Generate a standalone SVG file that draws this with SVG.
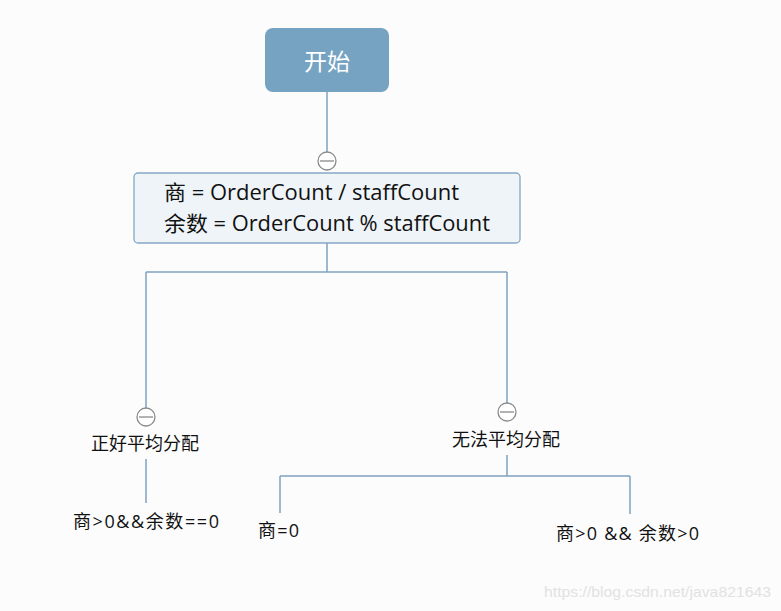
<svg xmlns="http://www.w3.org/2000/svg" width="781" height="611" viewBox="0 0 781 611">
<style>
.ln{stroke:#7fa3c0;stroke-width:1.5;fill:none}
.tg{fill:#fff;stroke:#8a8a8a;stroke-width:1.3}
.tgm{stroke:#8a8a8a;stroke-width:1.3}
.t{font-family:"Open Sans","Noto Sans CJK SC",sans-serif;fill:#111}
</style>
<rect width="781" height="611" fill="#fcfcfc"/>
<g id="connectors">
<path class="ln" d="M327,92 V152"/>
<path class="ln" d="M327,243 V272 M146,272 H507 M146,272 V408 M507,272 V403"/>
<path class="ln" d="M146,459 V503"/>
<path class="ln" d="M507,455 V476 M280,476 H630 M280,476 V513 M630,476 V514"/>
</g>
<g id="toggles">
<circle class="tg" cx="327" cy="161" r="9"/><path class="tgm" d="M320,161 H334"/>
<circle class="tg" cx="146" cy="417" r="9"/><path class="tgm" d="M139,417 H153"/>
<circle class="tg" cx="507" cy="412" r="9"/><path class="tgm" d="M500,412 H514"/>
</g>
<g id="start">
<rect x="265" y="28" width="124" height="64" rx="8" fill="#77a3c3"/>
<text class="t" x="327" y="70" font-size="23" text-anchor="middle" style="fill:#fff">开始</text>
</g>
<g id="calc">
<rect x="134" y="173" width="386" height="70" rx="4" fill="#eef4f8" stroke="#86a8c4" stroke-width="1.3"/>
<text class="t" x="164" y="200" font-size="21" textLength="295" lengthAdjust="spacingAndGlyphs">商 = OrderCount / staffCount</text>
<text class="t" x="164" y="231" font-size="21" textLength="326" lengthAdjust="spacingAndGlyphs">余数 = OrderCount % staffCount</text>
</g>
<g id="even">
<text class="t" x="91" y="450" font-size="18" textLength="108" lengthAdjust="spacingAndGlyphs">正好平均分配</text>
</g>
<g id="even-cond">
<text class="t" x="73" y="528" font-size="18" textLength="146" lengthAdjust="spacing">商&gt;0&amp;&amp;余数==0</text>
</g>
<g id="uneven">
<text class="t" x="452" y="446" font-size="18" textLength="108" lengthAdjust="spacingAndGlyphs">无法平均分配</text>
</g>
<g id="uneven-zero">
<text class="t" x="258" y="537" font-size="18" textLength="41" lengthAdjust="spacing">商=0</text>
</g>
<g id="uneven-pos">
<text class="t" x="556" y="540" font-size="18" textLength="143" lengthAdjust="spacing">商&gt;0 &amp;&amp; 余数&gt;0</text>
</g>
<text x="544" y="597" font-family="Liberation Sans,sans-serif" font-size="15" fill="#e2e2e2" textLength="227" lengthAdjust="spacingAndGlyphs">https://blog.csdn.net/java821643</text>
</svg>
